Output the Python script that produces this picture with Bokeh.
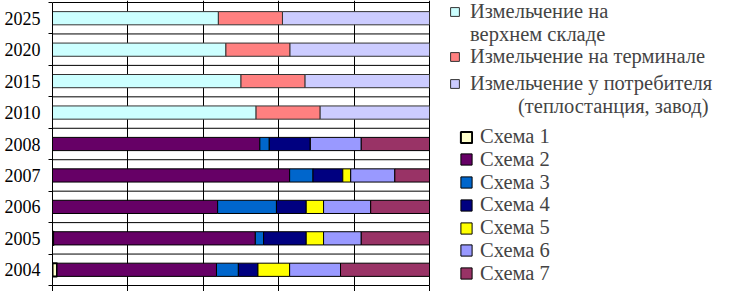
from bokeh.plotting import figure
from bokeh.models import (ColumnDataSource, Range1d, FixedTicker, Legend, LegendItem)
from bokeh.embed import file_html
from bokeh.resources import INLINE

# ---- data ----
years = ["2004", "2005", "2006", "2007", "2008", "2010", "2015", "2020", "2025"]

scheme_years = ["2004", "2005", "2006", "2007", "2008"]
scheme_names = ["Схема 1", "Схема 2", "Схема 3", "Схема 4", "Схема 5", "Схема 6", "Схема 7"]
scheme_1 = [1.2, 0.3, 0.0, 0.0, 0.0]
scheme_2 = [42.3, 53.5, 43.8, 62.9, 55.0]
scheme_3 = [5.8, 2.2, 15.6, 6.2, 2.5]
scheme_4 = [5.2, 11.3, 7.9, 7.9, 10.9]
scheme_5 = [8.4, 4.6, 4.6, 2.1, 0.0]
scheme_6 = [13.5, 10.0, 12.5, 11.7, 13.5]
scheme_7 = [23.6, 18.1, 15.6, 9.2, 18.1]

forecast_years = ["2010", "2015", "2020", "2025"]
forecast_lines = [["Измельчение на", "верхнем складе"],
                  ["Измельчение на терминале"],
                  ["Измельчение у потребителя", "(теплостанция, завод)"]]
upper_storage = [54, 50, 46, 44]
terminal = [17, 17, 17, 17]
consumer = [29, 33, 37, 39]

x_ticks = [0, 20, 40, 60, 80, 100]

scheme_colors = ["#FFFFCC", "#660066", "#0066CC", "#000080", "#FFFF00", "#9999FF", "#993366"]
forecast_colors = ["#CCFFFF", "#FF8080", "#CCCCFF"]

# ---- sources ----
s_keys = ["s1", "s2", "s3", "s4", "s5", "s6", "s7"]
src_s = ColumnDataSource(dict(
    y=[years.index(v) for v in scheme_years],
    s1=scheme_1, s2=scheme_2, s3=scheme_3, s4=scheme_4,
    s5=scheme_5, s6=scheme_6, s7=scheme_7))
f_keys = ["f1", "f2", "f3"]
src_f = ColumnDataSource(dict(
    y=[years.index(v) for v in forecast_years],
    f1=upper_storage, f2=terminal, f3=consumer))

FONT = "Liberation Serif"
n = len(years)
boundaries = [i - 0.5 for i in range(n + 1)]
src_b = ColumnDataSource(dict(y=boundaries, x0=[0] * len(boundaries), x1=[100] * len(boundaries)))

# layout of the plotting area (screen px)
FRAME_L, AREA_R, AREA_T, FRAME_B = 52, 429, 2, 285
px_per_unit = (AREA_R - FRAME_L) / 100.0
x_end = (732 - FRAME_L) / px_per_unit
px_per_cat = (FRAME_B - AREA_T) / n
y_end = n - 0.5 + AREA_T / px_per_cat

p = figure(width=732, height=291, output_backend="svg", toolbar_location=None,
           x_range=Range1d(0, x_end), y_range=Range1d(-0.5, y_end),
           min_border_left=FRAME_L, min_border_right=0, min_border_top=0,
           min_border_bottom=291 - FRAME_B)
p.background_fill_color = "white"
p.border_fill_color = "white"
p.outline_line_color = None

# category boundary lines (horizontal grid between categories)
p.segment(x0="x0", x1="x1", y0="y", y1="y", source=src_b, line_color="black", line_width=1)

bar_h = 0.42
rs = p.hbar_stack(s_keys, y="y", height=bar_h, color=scheme_colors, source=src_s,
                  line_color="black", line_width=1)
rs[0].glyph.line_width = 2
rf = p.hbar_stack(f_keys, y="y", height=bar_h, color=forecast_colors, source=src_f,
                  line_color="#333333", line_width=1)

# axes
p.yaxis.ticker = FixedTicker(ticks=list(range(n)), minor_ticks=boundaries)
p.yaxis.major_label_overrides = {i: y for i, y in enumerate(years)}
p.yaxis.major_tick_out = 0
p.yaxis.major_tick_in = 0
p.yaxis.minor_tick_out = 4
p.yaxis.minor_tick_in = 0
p.yaxis.minor_tick_line_color = "black"
p.yaxis.major_label_standoff = 8
p.yaxis.major_label_text_font = FONT
p.yaxis.major_label_text_font_size = "18px"
p.yaxis.major_label_text_color = "black"
p.yaxis.axis_line_color = "black"
p.yaxis.bounds = (-0.5, n - 0.5)

p.xaxis.ticker = FixedTicker(ticks=x_ticks)
p.xaxis.bounds = (0, 100)
p.xaxis.major_tick_out = 6
p.xaxis.major_tick_in = 0
p.xaxis.minor_tick_out = 0
p.xaxis.major_label_overrides = {t: "" for t in x_ticks}
p.xaxis.major_label_text_font_size = "0px"
p.xaxis.major_label_standoff = 0
p.xaxis.axis_line_color = "black"
p.xaxis.major_tick_line_color = "black"

p.ygrid.grid_line_color = None
p.xgrid.grid_line_color = "black"


def add_row(item, glyph_left, center, font_px, glyph, standoff):
    """One legend row whose text is centred at screen y = center."""
    row_h = int(round(font_px * 1.15)) + 1
    bottom = center + row_h / 2.0
    leg = Legend(items=[item], location=(glyph_left - FRAME_L, FRAME_B - bottom),
                 orientation="vertical", glyph_width=glyph, glyph_height=glyph,
                 label_standoff=standoff, label_text_font=FONT,
                 label_text_font_size=f"{font_px}px", label_height=row_h,
                 spacing=0, padding=0, margin=0,
                 border_line_color=None, background_fill_alpha=0)
    p.add_layout(leg, "center")


TOP_FS = 20.5
top_rows = [(LegendItem(label=forecast_lines[0][0], renderers=[rf[0]]), 449, 11.5),
            (LegendItem(label=forecast_lines[0][1], renderers=[]), 449, 34.2),
            (LegendItem(label=forecast_lines[1][0], renderers=[rf[1]]), 449, 56.9),
            (LegendItem(label=forecast_lines[2][0], renderers=[rf[2]]), 449, 83.5),
            (LegendItem(label=forecast_lines[2][1], renderers=[]), 449 + 48, 106.2)]
for it, gx, cy in top_rows:
    add_row(it, gx, cy, TOP_FS, 11, 10)

BOT_FS = 20.5
bot_pitch = 22.75
bot_last = 273.0
bot_first = bot_last - bot_pitch * (len(scheme_names) - 1)
for k, (nm, r) in enumerate(zip(scheme_names, rs)):
    add_row(LegendItem(label=nm, renderers=[r]), 459, bot_first + bot_pitch * k, BOT_FS, 14, 7)

open("out.html", "w").write(file_html(p, INLINE))
